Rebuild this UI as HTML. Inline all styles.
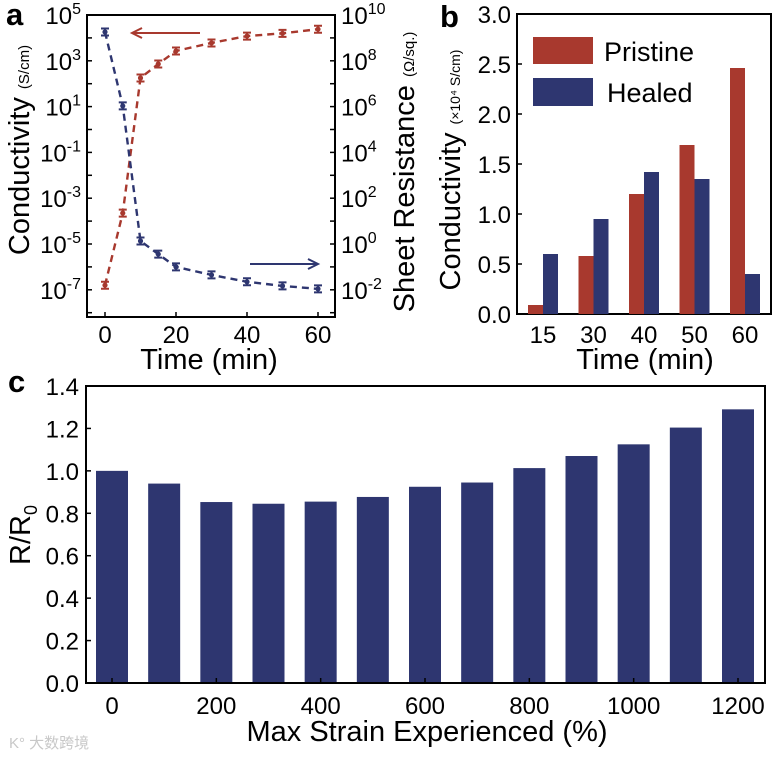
<!DOCTYPE html>
<html><head><meta charset="utf-8">
<style>
body{margin:0;background:#fff;}
svg{display:block;font-family:"Liberation Sans",Arial,sans-serif;}
</style></head>
<body>
<svg id="fig" width="780" height="758" viewBox="0 0 780 758" xmlns="http://www.w3.org/2000/svg">
<g id="pa"></g>
<g id="pb"></g>
<g id="pc"></g>
</svg>
<script>
// Panel a data
const aTimes = [0, 5, 10, 15, 20, 30, 40, 50, 60];
const aConductivityLog = [-6.8, -3.65, 2.25, 2.86, 3.43, 3.78, 4.08, 4.2, 4.38];
const aResistanceLog = [9.26, 6.03, 0.13, -0.44, -1.0, -1.35, -1.65, -1.83, -1.96];
const aLeftTicks = [5, 3, 1, -1, -3, -5, -7];
const aRightTicks = [10, 8, 6, 4, 2, 0, -2];
const aXTicks = [0, 20, 40, 60];
// Panel b data
const bCategories = ["15", "30", "40", "50", "60"];
const bPristine = [0.09, 0.58, 1.2, 1.69, 2.46];
const bHealed = [0.6, 0.95, 1.42, 1.35, 0.4];
const bYTicks = ["0.0", "0.5", "1.0", "1.5", "2.0", "2.5", "3.0"];
// Panel c data
const cStrain = [0, 100, 200, 300, 400, 500, 600, 700, 800, 900, 1000, 1100, 1200];
const cRatio = [1.0, 0.94, 0.853, 0.845, 0.855, 0.877, 0.925, 0.945, 1.013, 1.07, 1.125, 1.204, 1.29];
const cYTicks = ["0.0", "0.2", "0.4", "0.6", "0.8", "1.0", "1.2", "1.4"];
const cXTicks = [0, 200, 400, 600, 800, 1000, 1200];

const NS = "http://www.w3.org/2000/svg";
const RED = "#a8392e", BLUE = "#2e3670";
function mk(parent, tag, attrs, text) {
  const e = document.createElementNS(NS, tag);
  for (const k in attrs) e.setAttribute(k, attrs[k]);
  if (text !== undefined) e.textContent = text;
  parent.appendChild(e);
  return e;
}

// ---------- Panel a ----------
(function () {
  const g = document.getElementById('pa');
  const L = 87, R = 335, T = 15, B = 317;
  const dec = 22.9;
  const xA = t => 105 + t * (318 - 105) / 60;
  const yL = v => T + (5 - v) * dec;
  const yR = v => T + (10 - v) * dec;
  let e = mk(g, 'rect', {x: L, y: T, width: R - L, height: B - T, fill: 'none', stroke: '#000', 'stroke-width': 2});
  
  
  for (let v = -8; v <= 5; v++) {
    const y = yL(v); if (y < T || y > B) continue;
    mk(g, 'line', {x1: L, x2: L + 5, y1: y, y2: y, stroke: '#000', 'stroke-width': 1.5});
    mk(g, 'line', {x1: R, x2: R - 5, y1: y, y2: y, stroke: '#000', 'stroke-width': 1.5});
  }
  aLeftTicks.forEach(v => {
    const t = mk(g, 'text', {x: 81, y: yL(v) + 9, 'text-anchor': 'end', 'font-size': 24});
    
    
    t.textContent = '10';
    mk(t, 'tspan', {dy: -10, 'font-size': 16}, String(v));
  });
  aRightTicks.forEach(v => {
    const t = mk(g, 'text', {x: 341, y: yR(v) + 9, 'font-size': 24});
    
    
    t.textContent = '10';
    mk(t, 'tspan', {dy: -10, 'font-size': 16}, String(v));
  });
  aXTicks.forEach(v => {
    mk(g, 'line', {x1: xA(v), x2: xA(v), y1: B, y2: B - 5, stroke: '#000', 'stroke-width': 1.5});
    const t = mk(g, 'text', {x: xA(v), y: 343, 'text-anchor': 'middle', 'font-size': 24}, String(v));
    
    
  });
  e = mk(g, 'text', {x: 209, y: 369, 'text-anchor': 'middle', 'font-size': 29}, 'Time (min)');
  
  
  e = mk(g, 'text', {transform: 'translate(29,150) rotate(-90)', 'text-anchor': 'middle', 'font-size': 29});
  
  
  e.textContent = 'Conductivity ';
  mk(e, 'tspan', {'font-size': 15}, '(S/cm)');
  e = mk(g, 'text', {transform: 'translate(414,172) rotate(-90)', 'text-anchor': 'middle', 'font-size': 29});
  
  
  e.textContent = 'Sheet Resistance ';
  mk(e, 'tspan', {'font-size': 15}, '(Ω/sq.)');
  e = mk(g, 'text', {x: 6, y: 25, 'font-size': 31, 'font-weight': 'bold'}, 'a');
  
  

  function series(vals, yf, color, name) {
    const pts = aTimes.map((t, i) => xA(t) + ',' + yf(vals[i])).join(' ');
    const pl = mk(g, 'polyline', {points: pts, fill: 'none', stroke: color, 'stroke-width': 2.4, 'stroke-dasharray': '7,5'});
    
    
    aTimes.forEach((t, i) => {
      const x = xA(t), y = yf(vals[i]);
      const c = mk(g, 'circle', {cx: x, cy: y, r: 2.6, fill: color});
      
      
      mk(g, 'path', {d: `M${x-4},${y-3.5}H${x+4}M${x-4},${y+3.5}H${x+4}M${x},${y-3.5}V${y+3.5}`, stroke: color, 'stroke-width': 2});
    });
  }
  series(aConductivityLog, yL, RED, 'conductivity');
  series(aResistanceLog, yR, BLUE, 'sheet-resistance');
  e = mk(g, 'path', {d: 'M200,33H134M142,28L132,33L142,38', fill: 'none', stroke: RED, 'stroke-width': 2});
  
  
  e = mk(g, 'path', {d: 'M250,264H316M308,259L318,264L308,269', fill: 'none', stroke: BLUE, 'stroke-width': 2});
  
  
})();

// ---------- Panel b ----------
(function () {
  const g = document.getElementById('pb');
  const L = 517, R = 771, T = 14, B = 314;
  const yB = v => B - v * (B - T) / 3;
  const xC = i => 543 + i * 50.5;
  const bw = 15;
  let e = mk(g, 'rect', {x: L, y: T, width: R - L, height: B - T, fill: 'none', stroke: '#000', 'stroke-width': 2});
  
  
  bYTicks.forEach(s => {
    const y = yB(parseFloat(s));
    mk(g, 'line', {x1: L, x2: L + 5, y1: y, y2: y, stroke: '#000', 'stroke-width': 1.5});
    const t = mk(g, 'text', {x: 511, y: y + 9, 'text-anchor': 'end', 'font-size': 24}, s);
    
    
  });
  bCategories.forEach((c, i) => {
    let r = mk(g, 'rect', {x: xC(i) - bw, y: yB(bPristine[i]), width: bw, height: B - yB(bPristine[i]), fill: RED});
    
    
    r = mk(g, 'rect', {x: xC(i), y: yB(bHealed[i]), width: bw, height: B - yB(bHealed[i]), fill: BLUE});
    
    
    const t = mk(g, 'text', {x: xC(i), y: 343, 'text-anchor': 'middle', 'font-size': 24}, c);
    
    
  });
  e = mk(g, 'rect', {x: 533, y: 37, width: 60, height: 27, fill: RED});
  
  
  e = mk(g, 'text', {x: 604, y: 61, 'font-size': 27}, 'Pristine');
  
  
  e = mk(g, 'rect', {x: 533, y: 78, width: 60, height: 28, fill: BLUE});
  
  
  e = mk(g, 'text', {x: 607, y: 102, 'font-size': 27}, 'Healed');
  
  
  e = mk(g, 'text', {x: 645, y: 369, 'text-anchor': 'middle', 'font-size': 29}, 'Time (min)');
  
  
  e = mk(g, 'text', {transform: 'translate(460,170) rotate(-90)', 'text-anchor': 'middle', 'font-size': 29});
  
  
  e.textContent = 'Conductivity ';
  mk(e, 'tspan', {'font-size': 14}, '(×10⁴ S/cm)');
  e = mk(g, 'text', {x: 440, y: 27, 'font-size': 31, 'font-weight': 'bold'}, 'b');
  
  
})();

// ---------- Panel c ----------
(function () {
  const g = document.getElementById('pc');
  const L = 86, R = 765, T = 386, B = 683;
  const yC = v => B - v * (B - T) / 1.4;
  const xS = s => 112 + s * (738 - 112) / 1200;
  const bw = 32;
  cStrain.forEach((s, i) => {
    const r = mk(g, 'rect', {x: xS(s) - bw / 2, y: yC(cRatio[i]), width: bw, height: B - yC(cRatio[i]), fill: BLUE});
    
    
  });
  let e = mk(g, 'rect', {x: L, y: T, width: R - L, height: B - T, fill: 'none', stroke: '#000', 'stroke-width': 2});
  
  
  cYTicks.forEach(s => {
    const y = yC(parseFloat(s));
    mk(g, 'line', {x1: L, x2: L + 5, y1: y, y2: y, stroke: '#000', 'stroke-width': 1.5});
    const t = mk(g, 'text', {x: 79, y: y + 9, 'text-anchor': 'end', 'font-size': 24}, s);
    
    
  });
  cXTicks.forEach(s => {
    mk(g, 'line', {x1: xS(s), x2: xS(s), y1: B, y2: B - 5, stroke: '#000', 'stroke-width': 1.5});
    const t = mk(g, 'text', {x: xS(s), y: 714, 'text-anchor': 'middle', 'font-size': 24}, String(s));
    
    
  });
  e = mk(g, 'text', {x: 427, y: 741, 'text-anchor': 'middle', 'font-size': 29}, 'Max Strain Experienced (%)');
  
  
  e = mk(g, 'text', {transform: 'translate(30,535) rotate(-90)', 'text-anchor': 'middle', 'font-size': 29});
  
  
  e.textContent = 'R/R';
  mk(e, 'tspan', {dy: 7, 'font-size': 18}, '0');
  e = mk(g, 'text', {x: 8, y: 392, 'font-size': 31, 'font-weight': 'bold'}, 'c');
  
  
  e = mk(g, 'text', {x: 9, y: 748, 'font-size': 15, fill: '#c8c8c8', 'font-family': '"Liberation Sans","Noto Sans CJK SC",sans-serif'}, 'K° 大数跨境');
  
  
})();
</script>
</body></html>
